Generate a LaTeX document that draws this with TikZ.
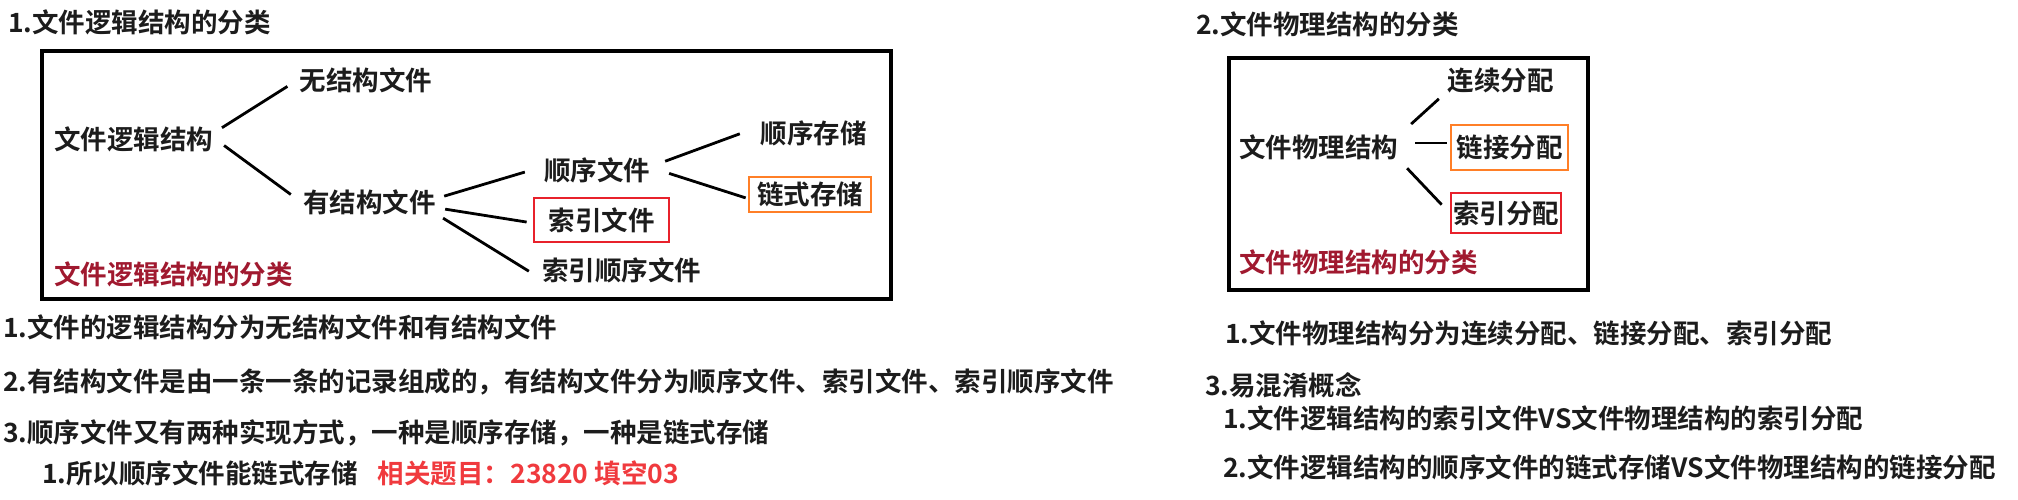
\documentclass[tikz,border=0pt]{standalone}
\usepackage{fontspec}
\setmainfont{Noto Sans CJK SC Bold}
\definecolor{ink}{HTML}{1C1C1C}
\definecolor{capred}{HTML}{A0192F}
\definecolor{boxred}{HTML}{E8212B}
\definecolor{boxorange}{HTML}{FF7F27}
\definecolor{hotred}{HTML}{F03A3E}
\tikzset{
  word/.style={font=\fontsize{26.5}{30}\selectfont, text=ink, inner sep=2pt},
  para/.style={word, anchor=west, inner sep=0pt},
  caption/.style={para, text=capred},
  hbox/.style={word, draw=#1, line width=2.9pt, inner sep=0pt},
  link/.style={line width=2.8pt, draw=black},
  frame/.style={line width=3.2pt, draw=black}
}
\begin{document}
\begin{tikzpicture}[x=1pt, y=-1pt, line cap=butt, line join=miter]
  \useasboundingbox (0,0) rectangle (2018,500);

  % Section titles
  \node[para] (t1) at (8,22) {1.文件逻辑结构的分类};
  \node[para] (t2) at (1196,24) {2.文件物理结构的分类};

  % Frames
  \draw[frame] (42,51) rectangle (891,299);
  \draw[frame] (1229,58) rectangle (1588,290);

  % Logical structure tree
  \node[word] (lroot) at (133.5,139) {文件逻辑结构};
  \node[word] (nostr) at (366,80) {无结构文件};
  \node[word] (ystr) at (369.5,202) {有结构文件};
  \node[word] (sxwj) at (597,170) {顺序文件};
  \node[hbox=boxred, minimum width=135pt, minimum height=44pt] (syw) at (601.5,220) {索引文件\hspace{10pt}};
  \node[word] (sysx) at (621.5,270) {索引顺序文件};
  \node[word] (sxcc) at (813.5,133) {顺序存储};
  \node[hbox=boxorange, minimum width=122pt, minimum height=35pt] (lscc) at (810,194.5) {链式存储};
  \node[caption] (lcap) at (54,274) {文件逻辑结构的分类};

  \draw[link, shorten <=8pt, shorten >=12pt] ([yshift=7pt]lroot.east) -- (nostr.west);
  \draw[link, shorten <=11pt, shorten >=12.7pt] (lroot.east) -- (ystr.west);
  \draw[link, shorten <=6.5pt, shorten >=17.7pt] ([yshift=4pt]ystr.east) -- ([yshift=3pt]sxwj.west);
  \draw[link, shorten <=7.3pt, shorten >=6pt] ([yshift=-6pt]ystr.east) -- ([yshift=-3pt]syw.west);
  \draw[link, shorten <=6pt, shorten >=12.9pt] ([yshift=-13pt]ystr.east) -- ([yshift=-8pt]sysx.west);
  \draw[link, shorten <=13.8pt, shorten >=19.7pt] ([yshift=4pt]sxwj.east) -- ([yshift=6pt]sxcc.west);
  \draw[link, shorten <=17.8pt, shorten >=2pt] ([yshift=2pt]sxwj.east) -- ([yshift=-4pt]lscc.west);

  % Physical structure tree
  \node[word] (rroot) at (1318.5,147) {文件物理结构};
  \node[word] (lxfp) at (1500.5,81) {连续分配};
  \node[hbox=boxorange, minimum width=117pt, minimum height=45pt] (ljfp) at (1509.5,147.5) {链接分配};
  \node[hbox=boxred, minimum width=110pt, minimum height=40pt] (syfp) at (1506,213) {索引分配};
  \node[caption] (rcap) at (1239,262) {文件物理结构的分类};

  \draw[link, shorten <=14.8pt, shorten >=8.7pt] ([yshift=13pt]rroot.east) -- ([yshift=-12pt]lxfp.west);
  \draw[link, shorten <=15pt, shorten >=3pt] ([yshift=4pt]rroot.east) -- ([yshift=4.5pt]ljfp.west);
  \draw[link, shorten <=10pt, shorten >=11.4pt] ([yshift=-14pt]rroot.east) -- (syfp.west);

  % Notes, left
  \node[para] (n1) at (3,327) {1.文件的逻辑结构分为无结构文件和有结构文件};
  \node[para] (n2) at (3,382) {2.有结构文件是由一条一条的记录组成的，有结构文件分为顺序文件、索引文件、索引顺序文件};
  \node[para] (n3) at (3,433) {3.顺序文件又有两种实现方式，一种是顺序存储，一种是链式存储};
  \node[para] (n4) at (42,473) {1.所以顺序文件能链式存储\hspace{20pt}{\color{hotred}相关题目：23820 填空03}};

  % Notes, right
  \node[para] (m1) at (1225,333) {1.文件物理结构分为连续分配、链接分配、索引分配};
  \node[para] (m2) at (1205,385) {3.易混淆概念};
  \node[para] (m3) at (1223,418) {1.文件逻辑结构的索引文件VS文件物理结构的索引分配};
  \node[para] (m4) at (1223,467) {2.文件逻辑结构的顺序文件的链式存储VS文件物理结构的链接分配};
\end{tikzpicture}
\end{document}
